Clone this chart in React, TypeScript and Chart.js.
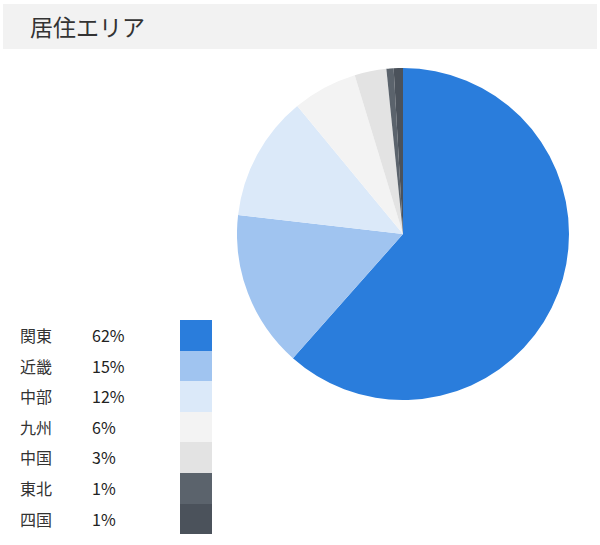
import { useEffect, useRef } from "react";
import { Chart, registerables } from "chart.js";

Chart.register(...registerables);

// regions, clockwise from 12 o'clock
const regions = ["関東", "近畿", "中部", "九州", "中国", "東北", "四国"];
const shares = [61.6, 15.3, 12.2, 6.3, 3.1, 0.7, 0.9];
const colors = [
  "#2a7ddc",
  "#a0c4f0",
  "#dbe9f9",
  "#f3f3f3",
  "#e3e3e3",
  "#5b636c",
  "#4b525b",
];

const FONT = '"Noto Sans CJK JP", "Noto Sans", sans-serif';

export default function App() {
  const canvasRef = useRef<HTMLCanvasElement>(null);

  useEffect(() => {
    document.body.style.margin = "0";
    if (!canvasRef.current) return;
    const chart = new Chart(canvasRef.current, {
      type: "pie",
      data: {
        labels: regions,
        datasets: [
          {
            data: shares,
            backgroundColor: colors,
            borderWidth: 0,
          },
        ],
      },
      options: {
        responsive: false,
        animation: false,
        layout: { padding: 0 },
        plugins: {
          legend: { display: false },
          tooltip: { enabled: false },
        },
      },
    });
    return () => chart.destroy();
  }, []);

  const total = shares.reduce((a, b) => a + b, 0);

  return (
    <div
      style={{
        position: "relative",
        width: 600,
        height: 545,
        background: "#fff",
        fontFamily: FONT,
        color: "#333",
      }}
    >
      {/* title bar */}
      <div
        style={{
          position: "absolute",
          left: 3,
          top: 4,
          width: 594,
          height: 45,
          background: "#f2f2f2",
        }}
      >
        <span
          style={{
            position: "absolute",
            left: 27,
            top: 7,
            fontSize: 23,
            lineHeight: "30px",
            color: "#333",
          }}
        >
          居住エリア
        </span>
      </div>

      {/* pie */}
      <canvas
        ref={canvasRef}
        width={332}
        height={332}
        style={{ position: "absolute", left: 237, top: 68, width: 332, height: 332 }}
      />

      {/* legend */}
      {regions.map((r, i) => (
        <div
          key={r}
          style={{
            position: "absolute",
            left: 0,
            top: 320 + i * 30.6,
            height: 30.6,
            width: 230,
          }}
        >
          <span
            style={{
              position: "absolute",
              left: 20,
              top: 5,
              fontSize: 16,
              lineHeight: "20px",
            }}
          >
            {r}
          </span>
          <span
            style={{
              position: "absolute",
              left: 92,
              top: 5,
              fontSize: 16,
              lineHeight: "20px",
              color: "#222",
            }}
          >
            {Math.round((shares[i] / total) * 100)}%
          </span>
          <div
            style={{
              position: "absolute",
              left: 180,
              top: 0,
              width: 32,
              height: 30.6,
              background: colors[i],
            }}
          />
        </div>
      ))}
    </div>
  );
}
